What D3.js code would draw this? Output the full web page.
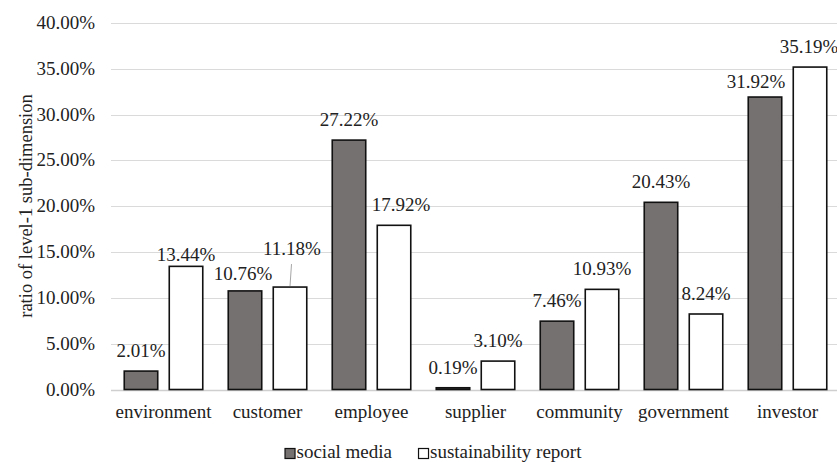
<!DOCTYPE html>
<html>
<head>
<meta charset="utf-8">
<script src="https://cdn.jsdelivr.net/npm/d3@7/dist/d3.min.js"></script>
<style>
  html, body { margin: 0; padding: 0; background: #fff; }
  svg text { font-family: 'Liberation Serif', 'Times New Roman', 'DejaVu Serif', serif; fill: #222; }
</style>
</head>
<body>
<div id="chart"></div>
<script>
  // chart data
  const categories = ['environment', 'customer', 'employee', 'supplier', 'community', 'government', 'investor'];
  const seriesNames = ['social media', 'sustainability report'];
  const socialMedia = [2.01, 10.76, 27.22, 0.19, 7.46, 20.43, 31.92];
  const sustainabilityReport = [13.44, 11.18, 17.92, 3.10, 10.93, 8.24, 35.19];
  const yTicks = [0, 5, 10, 15, 20, 25, 30, 35, 40];
  const yTitle = 'ratio of level-1 sub-dimension';

  const width = 837;
  const height = 462;
  const serif = "'Liberation Serif', 'Times New Roman', 'DejaVu Serif', serif";
  const colors = { 'social media': '#767171', 'sustainability report': '#ffffff' };

  // hand-placed label tweaks (like in the original excel chart)
  const labelNudge = {
    'environment|sustainability report': { dx: 0, dy: 9 },
    'customer|social media': { dx: -2, dy: 3 },
    'customer|sustainability report': { dx: 2, dy: -18, leader: true },
    'employee|sustainability report': { dx: 7, dy: 0 },
    'investor|social media': { dx: -9, dy: 5 },
    'investor|sustainability report': { dx: -1, dy: 0 }
  };

  const rows = [];
  categories.forEach((c, i) => {
    rows.push({ cat: c, series: seriesNames[0], value: socialMedia[i] });
    rows.push({ cat: c, series: seriesNames[1], value: sustainabilityReport[i] });
  });

  const svg = d3.select('#chart').append('svg')
    .attr('width', width)
    .attr('height', height)
    .attr('font-family', serif);

  const y = d3.scaleLinear().domain([0, 40]).range([389.5, 23]);
  const x0 = d3.scaleBand().domain(categories).range([111.5, 839.5]);
  const x1 = d3.scaleBand().domain(seriesNames).range([0, x0.bandwidth()])
    .paddingInner(0.256).paddingOuter(0.283);

  // gridlines
  svg.append('g').selectAll('line')
    .data(yTicks)
    .enter().append('line')
    .attr('x1', 111).attr('x2', width)
    .attr('y1', (d) => Math.round(y(d)) + 0.5)
    .attr('y2', (d) => Math.round(y(d)) + 0.5)
    .attr('stroke', (d) => d === 0 ? '#cfcfcf' : '#dadada')
    .attr('stroke-width', (d) => d === 0 ? 1.5 : 1);

  // y tick labels
  svg.append('g').selectAll('text')
    .data(yTicks)
    .enter().append('text')
    .attr('x', 95)
    .attr('y', (d) => y(d) + 6)
    .attr('text-anchor', 'end')
    .attr('font-family', serif)
    .style('font-size', '19px')
    .text((d) => d3.format('.2f')(d) + '%');

  // y title
  svg.append('text')
    .attr('transform', 'translate(32,206) rotate(-90)')
    .attr('text-anchor', 'middle')
    .attr('font-family', serif)
    .style('font-size', '18.5px')
    .text(yTitle);

  // bars
  svg.append('g').selectAll('rect')
    .data(rows)
    .enter().append('rect')
    .attr('x', (d) => x0(d.cat) + x1(d.series))
    .attr('y', (d) => y(d.value))
    .attr('width', x1.bandwidth())
    .attr('height', (d) => y(0) - y(d.value))
    .attr('fill', (d) => colors[d.series])
    .attr('stroke', '#111')
    .attr('stroke-width', 1.6);

  // value labels
  let labels = svg.append('g');
  rows.forEach((d) => {
    let n = labelNudge[d.cat + '|' + d.series] || { dx: 0, dy: 0 };
    let cx = x0(d.cat) + x1(d.series) + x1.bandwidth() / 2;
    let top = y(d.value);
    let by = top - 14 + n.dy;
    labels.append('text')
      .attr('x', cx + n.dx)
      .attr('y', by)
      .attr('text-anchor', 'middle')
      .attr('font-family', serif)
      .style('font-size', '19px')
      .text(d.value.toFixed(2) + '%');
    if (n.leader) {
      labels.append('line')
        .attr('x1', cx + n.dx - 0.5).attr('y1', by + 9)
        .attr('x2', cx).attr('y2', top - 1)
        .attr('stroke', '#a6a6a6')
        .attr('stroke-width', 1);
    }
  });

  // category labels
  svg.append('g').selectAll('text')
    .data(categories)
    .enter().append('text')
    .attr('x', (d) => x0(d) + x0.bandwidth() / 2)
    .attr('y', 418)
    .attr('text-anchor', 'middle')
    .attr('font-family', serif)
    .style('font-size', '19px')
    .text((d) => d);

  // legend
  let legend = svg.append('g');
  let lx = 0;
  seriesNames.forEach((s) => {
    let item = legend.append('g').attr('transform', `translate(${lx},0)`);
    item.append('rect')
      .attr('x', 0.5).attr('y', 448.5)
      .attr('width', 10).attr('height', 10)
      .attr('fill', colors[s])
      .attr('stroke', '#111')
      .attr('stroke-width', 1.2);
    let t = item.append('text')
      .attr('x', 12)
      .attr('y', 458)
      .attr('font-family', serif)
      .style('font-size', '19px')
      .text(s);
    lx += 12 + t.node().getComputedTextLength() + 26;
  });
  let legendW = lx - 26;
  legend.attr('transform', `translate(${433 - legendW / 2},0)`);
</script>
</body>
</html>
